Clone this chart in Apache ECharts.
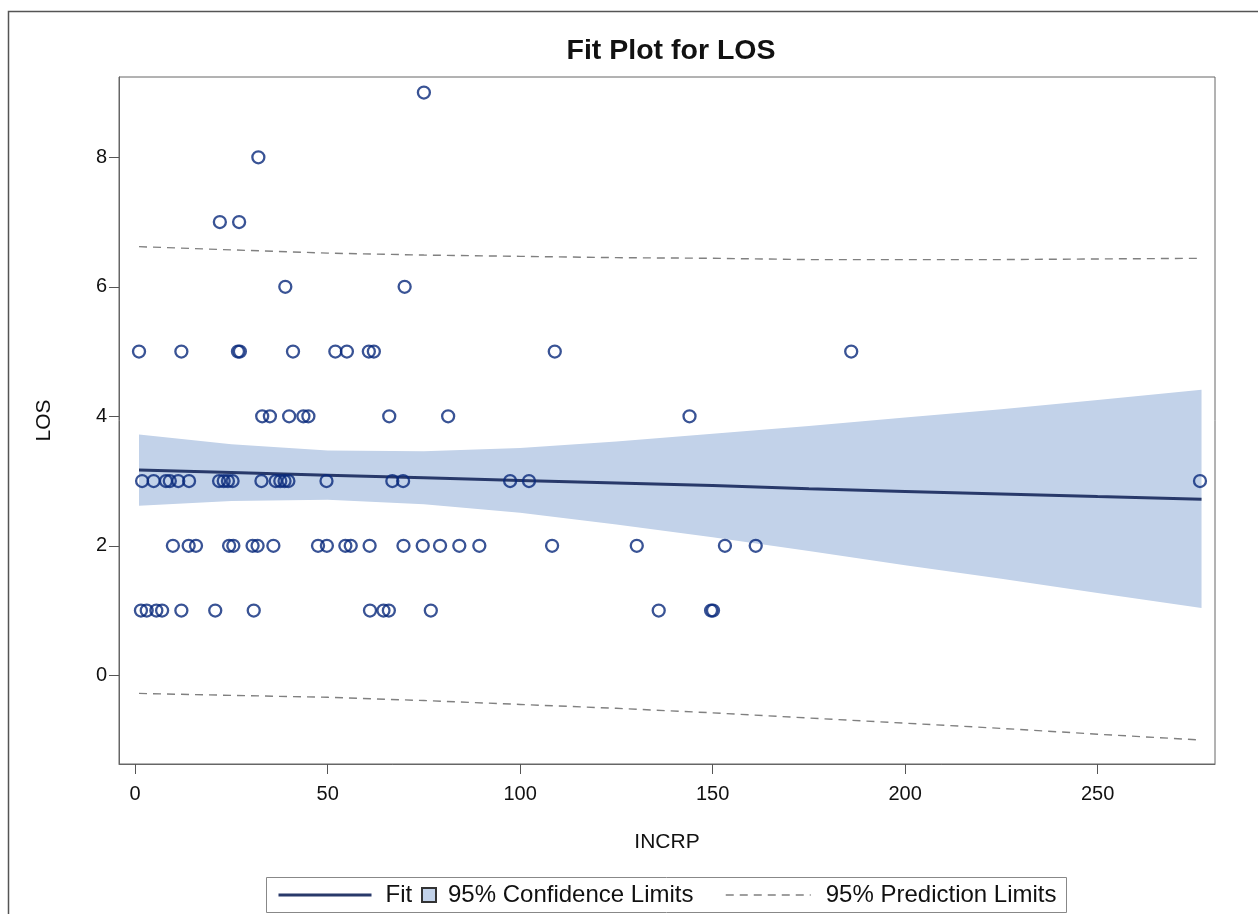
<!DOCTYPE html>
<html>
<head>
<meta charset="utf-8">
<title>Fit Plot for LOS</title>
<script src="https://cdn.jsdelivr.net/npm/echarts@6/dist/echarts.min.js"></script>
<style>
  html, body { margin: 0; padding: 0; background: #fff; }
  #fitplot { width: 1258px; height: 914px; }
</style>
</head>
<body>
<div id="fitplot"></div>
<script>
// observed points, written row by row (LOS 9 down to 1)
const incrp = [
  75,
  32,
  22, 27,
  39, 70,
  1, 12, 26.7, 27.2, 41, 52, 55, 60.7, 62, 109, 186,
  33, 35, 40, 43.7, 45, 66, 81.3, 144,
  1.8, 4.8, 8, 9, 11.2, 14, 21.8, 23, 24.1, 25.3, 32.8, 36.5, 37.7, 38.8, 39.8, 49.7, 66.8, 69.6, 97.4, 102.3, 276.6,
  9.8, 13.9, 15.8, 24.4, 25.5, 30.5, 31.8, 35.9, 47.5, 49.8, 54.6, 56, 60.9, 69.7, 74.7, 79.2, 84.2, 89.4, 108.3, 130.3, 153.2, 161.2,
  1.5, 3, 5.5, 7, 12, 20.8, 30.8, 61, 64.5, 65.9, 76.8, 136, 149.6, 150.1
]
const los = [
  9,
  8,
  7, 7,
  6, 6,
  5, 5, 5, 5, 5, 5, 5, 5, 5, 5, 5,
  4, 4, 4, 4, 4, 4, 4, 4,
  3, 3, 3, 3, 3, 3, 3, 3, 3, 3, 3, 3, 3, 3, 3, 3, 3, 3, 3, 3, 3,
  2, 2, 2, 2, 2, 2, 2, 2, 2, 2, 2, 2, 2, 2, 2, 2, 2, 2, 2, 2, 2, 2,
  1, 1, 1, 1, 1, 1, 1, 1, 1, 1, 1, 1, 1, 1
]

// fit line and limits, read at a few INCRP values
const fitX = [1, 25, 50, 75, 100, 125, 150, 175, 200, 225, 250, 277]
const fitY = [3.17, 3.13, 3.09, 3.05, 3.01, 2.97, 2.93, 2.88, 2.84, 2.80, 2.76, 2.72]
const clUpper = [3.72, 3.57, 3.47, 3.46, 3.51, 3.61, 3.73, 3.85, 3.98, 4.11, 4.25, 4.41]
const clLower = [2.62, 2.69, 2.71, 2.64, 2.51, 2.33, 2.13, 1.92, 1.70, 1.49, 1.27, 1.04]
const plUpper = [6.62, 6.57, 6.52, 6.49, 6.47, 6.45, 6.44, 6.42, 6.42, 6.42, 6.43, 6.44]
const plLower = [-0.28, -0.31, -0.34, -0.39, -0.45, -0.51, -0.58, -0.66, -0.74, -0.82, -0.91, -1.00]

const xTicks = [0, 50, 100, 150, 200, 250]
const yTicks = [0, 2, 4, 6, 8]

const FONT = '"Liberation Sans", Arial, sans-serif'
const BAND = '#c2d2e9'
const FITCOL = '#28396a'
const DASH = '#808080'

function pairs(xs, ys) {
  return xs.map((x, i) => [x, ys[i]])
}

// confidence band as one polygon: upper edge left->right, lower edge back
function renderBand(params, api) {
  if (params.dataIndex !== 0) return
  const pts = []
  for (let i = 0; i < fitX.length; i++) pts.push(api.coord([fitX[i], clUpper[i]]))
  for (let i = fitX.length - 1; i >= 0; i--) pts.push(api.coord([fitX[i], clLower[i]]))
  return {
    type: 'polygon',
    shape: { points: pts },
    style: { fill: BAND }
  }
}

function legendText(pad) {
  return { color: '#111', fontSize: 24, fontFamily: FONT, padding: [0, 0, 0, pad] }
}

function initChart() {
  const chart = echarts.init(document.getElementById('fitplot'))
  const option = {
    backgroundColor: '#fff',
    animation: false,
    title: {
      text: 'Fit Plot for LOS',
      left: 666,
      top: 32,
      textAlign: 'center',
      textStyle: { color: '#111', fontSize: 28.5, fontWeight: 'bold', fontFamily: FONT }
    },
    graphic: [
      {
        type: 'rect',
        shape: { x: 8.5, y: 11.5, width: 1300, height: 1000 },
        style: { fill: 'none', stroke: '#555', lineWidth: 1.5 },
        silent: true
      },
      {
        type: 'rect',
        shape: { x: 266.5, y: 877.5, width: 800, height: 35 },
        style: { fill: 'none', stroke: '#888', lineWidth: 1 },
        silent: true
      }
    ],
    legend: [
      {
        data: ['Fit'],
        left: 277, top: 883, padding: 0,
        itemWidth: 93, itemHeight: 14,
        selectedMode: false,
        itemStyle: { opacity: 0 },
        lineStyle: { width: 3, color: FITCOL },
        textStyle: legendText(9)
      },
      {
        data: [{ name: '95% Confidence Limits', icon: 'rect' }],
        left: 421, top: 883, padding: 0,
        itemWidth: 14, itemHeight: 14,
        selectedMode: false,
        textStyle: legendText(7)
      },
      {
        data: ['95% Prediction Limits'],
        left: 725, top: 883, padding: 0,
        itemWidth: 85, itemHeight: 14,
        selectedMode: false,
        itemStyle: { opacity: 0 },
        lineStyle: { width: 1.5, color: DASH, type: [8, 6] },
        textStyle: legendText(10)
      }
    ],
    grid: {
      left: 119, top: 77, right: 43, bottom: 150,
      show: true, borderColor: '#666', borderWidth: 1,
      containLabel: false
    },
    xAxis: {
      type: 'value',
      min: -4.2, max: 280.5,
      name: 'INCRP',
      nameLocation: 'middle',
      nameGap: 68,
      nameTextStyle: { color: '#111', fontSize: 21, fontFamily: FONT },
      axisLine: { show: true, onZero: false, lineStyle: { color: '#666' } },
      axisTick: { show: true, length: 10, lineStyle: { color: '#555' }, customValues: xTicks },
      axisLabel: { color: '#111', fontSize: 20, fontFamily: FONT, margin: 20, customValues: xTicks },
      splitLine: { show: false }
    },
    yAxis: {
      type: 'value',
      min: -1.37, max: 9.24,
      name: 'LOS',
      nameLocation: 'middle',
      nameGap: 64,
      nameRotate: 90,
      nameTextStyle: { color: '#111', fontSize: 21, fontFamily: FONT },
      axisLine: { show: true, onZero: false, lineStyle: { color: '#666' } },
      axisTick: { show: true, length: 10, lineStyle: { color: '#555' }, customValues: yTicks },
      axisLabel: { color: '#111', fontSize: 20, fontFamily: FONT, margin: 12, customValues: yTicks },
      splitLine: { show: false }
    },
    series: [
      {
        name: '95% Confidence Limits',
        type: 'custom',
        renderItem: renderBand,
        data: pairs(fitX, fitY),
        encode: { x: 0, y: 1 },
        itemStyle: { color: BAND, borderColor: '#333', borderWidth: 1 },
        z: 1,
        silent: true
      },
      {
        name: 'Fit',
        type: 'line',
        data: pairs(fitX, fitY),
        symbol: 'none',
        lineStyle: { color: FITCOL, width: 3 },
        itemStyle: { color: FITCOL },
        z: 3
      },
      {
        name: '95% Prediction Limits',
        type: 'line',
        data: pairs(fitX, plUpper),
        symbol: 'none',
        lineStyle: { color: DASH, width: 1.4, type: [8, 6] },
        itemStyle: { color: DASH },
        z: 2
      },
      {
        name: '95% Prediction Limits',
        type: 'line',
        data: pairs(fitX, plLower),
        symbol: 'none',
        lineStyle: { color: DASH, width: 1.4, type: [8, 6] },
        itemStyle: { color: DASH },
        z: 2
      },
      {
        name: 'LOS',
        type: 'scatter',
        data: pairs(incrp, los),
        symbol: 'circle',
        symbolSize: 12,
        itemStyle: { color: 'rgba(255,255,255,0)', borderColor: '#08287a', borderWidth: 2.3 },
        z: 4
      }
    ]
  }
  chart.setOption(option)
}

initChart()
</script>
</body>
</html>
